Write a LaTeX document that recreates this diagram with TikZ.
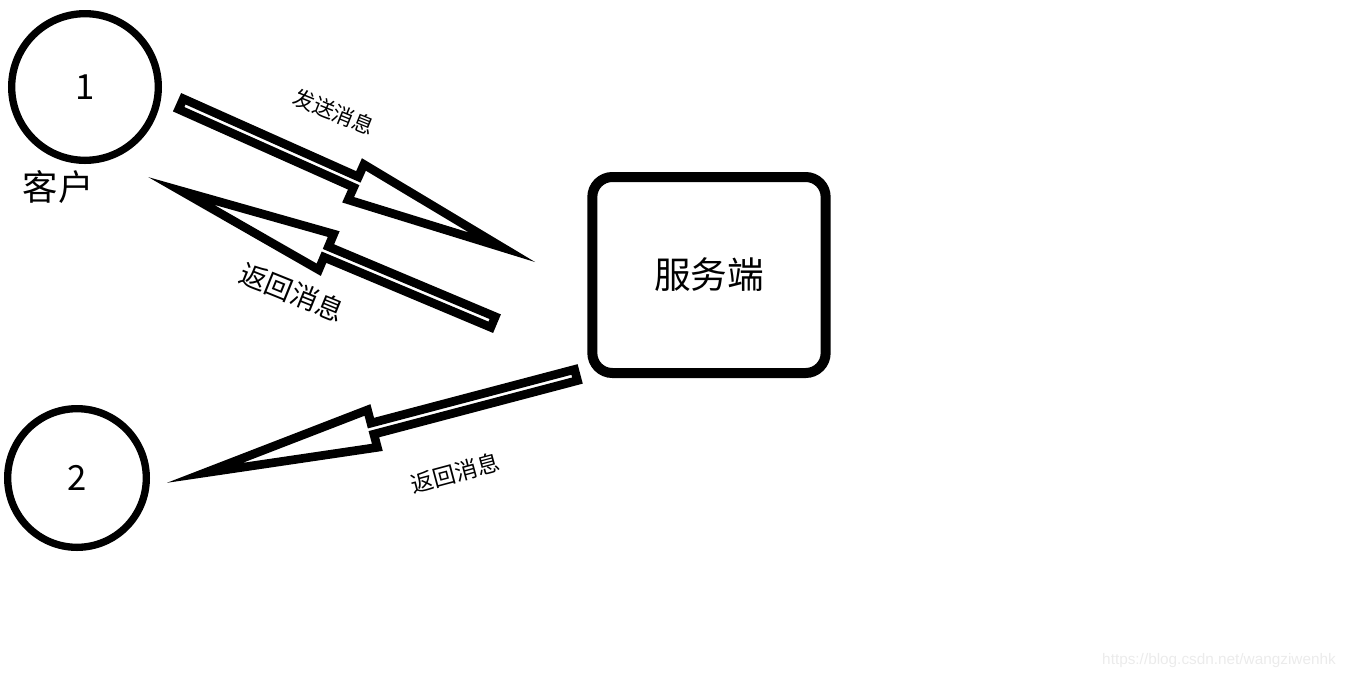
\documentclass[tikz,border=0pt]{standalone}
\usepackage{fontspec}
\setmainfont{Noto Sans CJK SC}
\newfontfamily\wmfont{Liberation Sans}
\usetikzlibrary{calc}
\tikzset{
  client/.style={circle, draw=black, line width=5.5pt, minimum size=#1, inner sep=0pt, font=\fontsize{26}{26}\selectfont},
  server/.style={draw=black, line width=7.5pt, rounded corners=15pt, minimum width=175pt, minimum height=147pt, font=\fontsize{27.5}{30}\selectfont},
  hollow/.style={draw=black, fill=white, line width=6.5pt, line join=miter, miter limit=30},
  lbl/.style={inner sep=0pt}
}
\begin{document}
\begin{tikzpicture}[x=0.75pt, y=-0.75pt]
\useasboundingbox (0,0) rectangle (1350,679);
% nodes
\node[client=110pt] (c1) at (85,87) {1};
\node[lbl, font=\fontsize{26.5}{27}\selectfont] (k) at (58,187) {客户};
\node[client=104pt] (c2) at (77,478) {2};
\node[server] (srv) at (709,275) {服务端};
% arrow coordinates
\coordinate (a1t) at (181,104);
\coordinate (a1p) at (535,262);
\coordinate (a2t) at (493,322);
\coordinate (a2p) at (148,177);
\coordinate (a3t) at (576,375);
\coordinate (a3p) at (170,482);
\foreach \t/\p/\H in {a1t/a1p/120pt, a2t/a2p/118pt, a3t/a3p/130pt}{
  \coordinate (ap) at ($(\p)!27pt!(\t)$);
  \coordinate (ab) at ($(ap)!\H!(\t)$);
  \draw[hollow] ($(\t)!4.3pt!90:(\p)$) -- ($(ab)!4.3pt!-90:(\t)$) -- ($(ab)!14.5pt!-90:(\t)$)
     -- (ap) -- ($(ab)!14.5pt!90:(\t)$) -- ($(ab)!4.3pt!90:(\t)$) -- ($(\t)!4.3pt!-90:(\p)$) -- cycle;
}
% labels
\node[lbl, rotate=-22, font=\fontsize{16}{16}\selectfont] (l1) at (334,112) {发送消息};
\node[lbl, rotate=-22, font=\fontsize{20.5}{21}\selectfont] (l2) at (292,292) {返回消息};
\node[lbl, rotate=15, font=\fontsize{17}{17}\selectfont] (l3) at (455,473) {返回消息};
\node[lbl, text=black!8, font=\wmfont\fontsize{11.5}{12}\selectfont] (wm) at (1219,661) {https://blog.csdn.net/wangziwenhk};
\end{tikzpicture}
\end{document}
